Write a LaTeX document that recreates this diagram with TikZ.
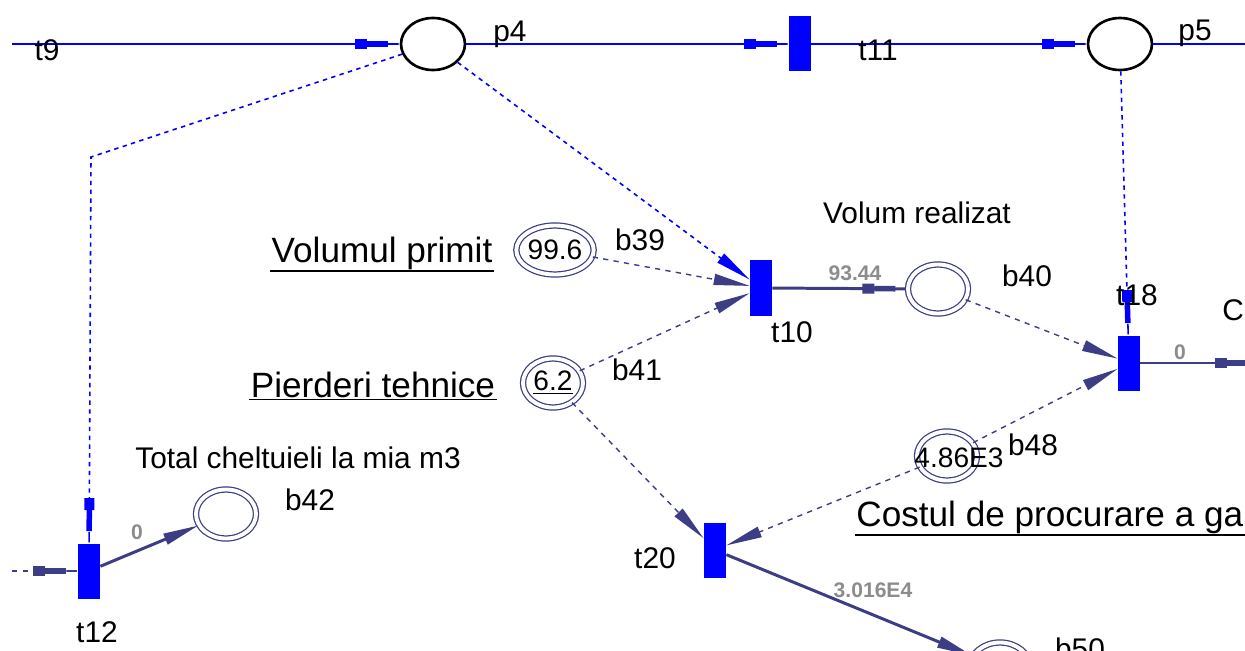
\documentclass[tikz,border=0pt]{standalone}
\usepackage{fontspec}
\setmainfont{Liberation Sans}
\usetikzlibrary{arrows.meta, positioning, shapes.geometric}
\definecolor{pblue}{HTML}{0000FF}
\definecolor{pnavy}{HTML}{3D3D85}
\definecolor{wgray}{HTML}{8C8C8C}
\tikzset{
  plug/.tip={Rectangle[length=0.24cm,width=0.2cm] Rectangle[length=0.42cm,width=0.11cm] Rectangle[length=0.24cm,width=0pt 1]},
  wedge/.tip={Triangle[length=0.72cm,width=0.22cm]},
  place/.style={
    ellipse, draw=black, line width=1.5pt, fill=white,
    minimum width=1.28cm, minimum height=1.04cm, inner sep=0pt
  },
  bplace/.style={
    ellipse, draw=pnavy, line width=0.7pt, double=white, double distance=2.2pt,
    minimum width=1.2cm, minimum height=0.98cm, inner sep=0pt,
    font=\fontsize{16}{18}\selectfont
  },
  trans/.style={rectangle, fill=pblue, minimum width=0.44cm, minimum height=1.1cm, inner sep=0pt},
  tag/.style={font=\fontsize{17}{20}\selectfont, inner sep=0pt},
  wval/.style={font=\fontsize{12}{14}\selectfont\bfseries, text=wgray, inner sep=0pt},
  ulined/.style={
    font=\fontsize{20}{24}\selectfont, inner sep=0.6pt,
    append after command={(\tikzlastnode.south west) edge[draw=black, line width=0.9pt] (\tikzlastnode.south east)}
  },
  bluearc/.style={draw=pblue, line width=1.1pt},
  bluedash/.style={draw=pblue, line width=0.9pt, dash pattern=on 2.5pt off 2.5pt},
  navyarc/.style={draw=pnavy, line width=1.7pt},
  navydash/.style={draw=pnavy, line width=0.8pt, dash pattern=on 3pt off 3pt}
}
\begin{document}
\begin{tikzpicture}
  \useasboundingbox (0,0) rectangle (24.9,-13.02);
  % top row of the net
  \coordinate (t9) at (0.24,-0.88);
  \node[place] (p4) at (8.66,-0.88) {};
  \node[trans] (t11) at (16.0,-0.88) {};
  \node[place] (p5) at (22.4,-0.88) {};
  \coordinate (pout) at (25.2,-0.88);
  % places and transitions below
  \node[bplace] (b39) at (11.1,-5.0) {99.6};
  \node[bplace] (b41) at (11.06,-7.66) {\underline{6.2}};
  \node[trans] (t10) at (15.22,-5.76) {};
  \node[bplace] (b40) at (18.76,-5.78) {};
  \node[trans] (t18) at (22.58,-7.26) {};
  \coordinate (tout) at (25.2,-7.26);
  \node[bplace] (b48) at (18.94,-9.12) {};
  \node[trans] (t20) at (14.3,-11.0) {};
  \node[bplace] (b50) at (20.0,-13.34) {};
  \node[trans] (t12) at (1.78,-11.42) {};
  \coordinate (lin) at (0.24,-11.42);
  \node[bplace] (b42) at (4.52,-10.28) {};
  \coordinate (k12) at (1.82,-3.14);
  % arcs
  \draw[bluearc,-plug] (t9) -- (p4);
  \draw[bluearc,-plug] (p4) -- (t11);
  \draw[bluearc,-plug] (t11) -- (p5);
  \draw[bluearc] (p5) -- (pout);
  \draw[bluedash,-plug] (p4) -- (k12) -- (t12);
  \draw[bluedash,-wedge] (p4) -- (t10);
  \draw[bluedash,-plug] (p5) -- (t18);
  \draw[navydash,-wedge] (b39) -- (t10);
  \draw[navydash,-wedge] (b41) -- (t10);
  \draw[navyarc,-plug] (t10) -- (b40);
  \draw[navydash,-wedge] (b40) -- (t18);
  \draw[navydash,-wedge] (b48) -- (t18);
  \draw[navyarc,-plug] (t18) -- (tout);
  \draw[navydash,-wedge] (b41) -- (t20);
  \draw[navydash,-wedge] (b48) -- (t20);
  \draw[navyarc,-wedge] (t20) -- (b50);
  \draw[navydash,-plug] (lin) -- (t12);
  \draw[navyarc,-wedge] (t12) -- (b42);
  % labels
  \node[tag] (lt9) at (0.94,-1.0) {t9};
  \node[tag] (lp4) at (10.2,-0.68) {p4};
  \node[tag] (lt11) at (17.56,-1.0) {t11};
  \node[tag] (lp5) at (23.9,-0.66) {p5};
  \node[ulined] (vprim) at (7.64,-5.06) {Volumul primit};
  \node[tag] (lb39) at (12.8,-4.8) {b39};
  \node[ulined] (ptehn) at (7.46,-7.7) {Pierderi tehnice};
  \node[tag] (lb41) at (12.74,-7.4) {b41};
  \node[tag] (vreal) at (18.34,-4.26) {Volum realizat};
  \node[tag] (lt10) at (15.84,-6.64) {t10};
  \node[tag] (lb40) at (20.54,-5.52) {b40};
  \node[tag] (lt18) at (22.74,-5.9) {t18};
  \node[tag, anchor=west] (lc) at (24.44,-6.2) {C};
  \node[font=\fontsize{16}{18}\selectfont, inner sep=0pt] (v48) at (19.18,-9.16) {4.86E3};
  \node[tag] (lb48) at (20.66,-8.9) {b48};
  \node[ulined, anchor=west] (cproc) at (17.1,-10.34) {Costul de procurare a ga};
  \node[tag] (lt20) at (13.1,-11.16) {t20};
  \node[tag] (lb50) at (21.6,-12.98) {b50};
  \node[tag] (tch) at (5.96,-9.16) {Total cheltuieli la mia m3};
  \node[tag] (lb42) at (6.2,-10.0) {b42};
  \node[tag] (lt12) at (1.94,-12.64) {t12};
  \node[wval] (w10) at (17.1,-5.46) {93.44};
  \node[wval] (w18) at (23.6,-7.04) {0};
  \node[wval] (w20) at (17.46,-11.8) {3.016E4};
  \node[wval] (w12) at (2.74,-10.64) {0};
\end{tikzpicture}
\end{document}
